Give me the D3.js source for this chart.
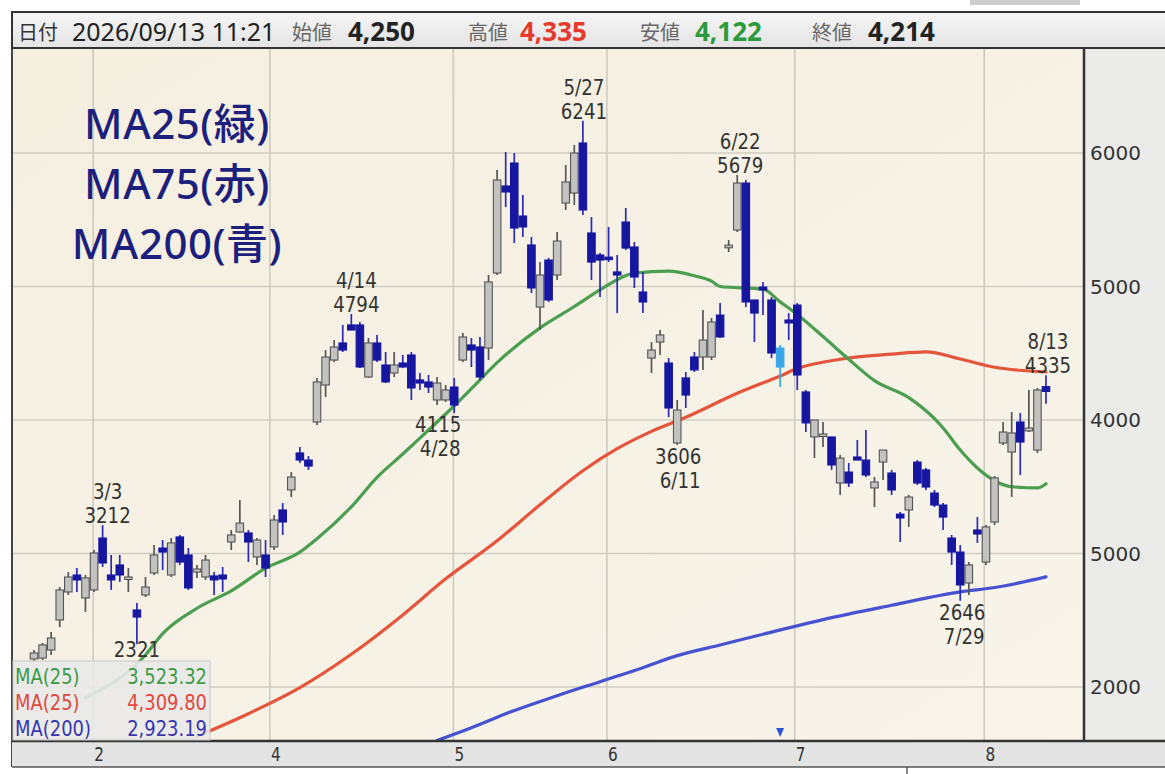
<!DOCTYPE html>
<html><head><meta charset="utf-8">
<script src="https://cdn.jsdelivr.net/npm/d3@7"></script>
<style>body{margin:0;background:#fff;overflow:hidden}</style>
</head><body><svg id="c" width="1165" height="774"></svg>
<script>
// ---------- DATA ----------
const open = [2210,2217,2277,2502,2712,2839,2667,2727,3116,2839,2914,2817,2577,2689,2854,3041,2839,3124,2989,2861,
  2824,2832,2839,3086,3161,3154,2974,2989,3049,3326,3476,3753,3700,3985,4262,4449,4577,4712,4712,4322,
  4577,4412,4352,4427,4487,4300,4285,4150,4150,4247,4449,4562,4547,4539,5101,5753,5925,5528,5311,4846,
  5198,5086,5625,5700,6075,5401,5236,5220,5109,5483,5296,4959,4464,4584,4427,3828,4315,4472,4472,4472,
  4786,5290,5423,5775,4899,4996,4899,4539,4749,4861,4210,3873,3880,3873,3528,3610,3723,3700,3491,3685,
  3603,3295,3326,3685,3626,3453,3363,3116,3011,2779,3176,2936,3236,3828,3760,3985,3918,3775,4250];
const high = [2277,2330,2412,2749,2861,2891,2839,3026,3212,2989,2989,2891,2629,2824,3064,3101,3116,3139,3041,2914,
  2989,2861,2899,3176,3401,3176,3116,3101,3288,3378,3610,3798,3730,4315,4524,4599,4712,4794,4734,4614,
  4637,4509,4509,4487,4509,4352,4337,4322,4262,4315,4652,4614,4622,5086,5873,6007,6000,5685,5371,5183,
  5213,5408,5910,6060,6241,5520,5251,5446,5236,5588,5333,5109,4584,4674,4464,4150,4360,4509,4824,4764,
  4876,5348,5835,5798,4899,5034,4921,4562,4801,4876,4225,4000,3985,3873,3738,3678,3850,3925,3573,3775,
  3626,3311,3438,3700,3640,3476,3378,3139,3064,2936,3273,3213,3581,3985,4060,4052,4225,4240,4335];
const low = [2187,2202,2240,2449,2689,2712,2562,2712,2899,2727,2787,2712,2321,2674,2839,2876,2824,2914,2727,2817,
  2802,2689,2712,3026,3154,2936,2914,2824,3026,3139,3423,3678,3626,3963,4172,4434,4509,4674,4389,4315,
  4434,4277,4322,4389,4150,4225,4202,4112,4135,4052,4434,4397,4300,4449,5086,5595,5326,5371,4951,4674,
  4884,5049,5573,5610,5535,5049,4921,5183,4801,5273,4989,4801,4352,4487,4022,3813,4090,4360,4375,4449,
  4614,5258,5408,4846,4584,4786,4464,4247,4599,4225,3910,3715,3798,3626,3438,3498,3700,3573,3348,3551,
  3438,3086,3199,3513,3476,3348,3176,2914,2646,2689,3079,2914,3213,3813,3423,3588,3910,3753,4122];
const close = [2255,2315,2367,2727,2824,2802,2817,3004,2929,2802,2839,2824,2524,2749,2989,3011,3079,2936,2742,2884,
  2951,2802,2809,3139,3228,3086,3101,2891,3251,3236,3573,3700,3655,4285,4472,4547,4524,4674,4397,4577,
  4449,4285,4412,4397,4240,4277,4247,4277,4225,4112,4622,4524,4322,5034,5798,5708,5438,5446,4989,5086,
  4899,5341,5783,6000,5573,5183,5198,5205,5086,5288,5071,4884,4524,4637,4090,4075,4187,4375,4599,4734,
  4622,5310,5775,4884,4801,4974,4502,4397,4727,4337,3978,4000,3895,3663,3715,3528,3700,3588,3536,3775,
  3476,3266,3423,3528,3498,3363,3273,3011,2764,2914,3146,3199,3566,3910,3903,3835,3940,4225,4214];
const highlightIndex = 87;   // light-blue candle
const markerIndex = 87;      // small blue marker near the axis

// moving averages: [candle index, value]
const ma25 = [[6,1920],[13,2240],[15,2400],[19,2590],[23,2720],[27,2890],[31,3010],[33,3110],[37,3350],[40,3570],
  [43,3745],[46,3925],[48,4045],[51,4235],[54,4430],[59,4690],[63,4850],[66,4975],[70,5100],[74,5115],[77,5080],
  [79,5040],[80,5000],[85,4980],[87,4885],[89,4790],[92,4625],[95,4455],[98,4295],[102,4168],[105,4010],[106,3940],
  [108,3775],[110,3640],[112,3545],[114,3500],[117,3491],[118,3523]];
const ma75 = [[19,1630],[25,1800],[31,1995],[37,2245],[43,2540],[48,2810],[54,3095],[59,3365],[64,3620],[68,3785],
  [72,3915],[76,4020],[82,4200],[87,4330],[89,4385],[94,4455],[100,4493],[104,4510],[108,4457],[112,4395],[118,4360]];
const ma200 = [[47,1600],[51,1695],[55,1800],[61,1935],[66,2040],[71,2145],[75,2235],[80,2315],[85,2395],[92,2505],
  [100,2612],[108,2712],[112,2745],[118,2825]];

const yTicks = [2000,3000,4000,5000,6000];
const yTickLabels = ["2000","5000","4000","5000","6000"];
const monthTicks = [6.9,27.5,48.9,66.8,88.7,110.8];
const monthLabels = ["2","4","5","6","7","8"];

const annotations = [
  {i:8,   side:"high", lines:["3/3","3212"]},
  {i:12,  side:"low",  lines:["2321"]},
  {i:37,  side:"high", lines:["4/14","4794"]},
  {i:49,  side:"low",  lines:["4115","4/28"]},
  {i:64,  side:"high", lines:["5/27","6241"]},
  {i:82,  side:"high", lines:["6/22","5679"]},
  {i:75,  side:"low",  lines:["3606","6/11"]},
  {i:108, side:"low",  lines:["2646","7/29"]},
  {i:118, side:"high", lines:["8/13","4335"]}
];
const annoDx = {8:5,12:0,37:5,49:-16,64:1,82:3,75:1,108:2,118:2};

const legendNames = ["MA(25)","MA(25)","MA(200)"];
const legendValues = ["3,523.32","4,309.80","2,923.19"];
const titleLines = ["MA25(緑)","MA75(赤)","MA200(青)"];
const headerDate = "2026/09/13 11:21";
const headerNames = ["始値","高値","安値","終値"];
const headerValues = ["4,250","4,335","4,122","4,214"];

// ---------- LAYOUT ----------
const svg = d3.select("#c");
const L = 12, R = 1084, T = 49, B = 741;
const x = d3.scaleLinear().domain([0, open.length - 1]).range([34, 1046]);
const y = d3.scaleLinear().domain([2000, 6000]).range([687, 153]);
const narrow = "'DejaVu Sans Condensed','DejaVu Sans',sans-serif";

// narrow text helper: condensed font squeezed horizontally
function ntext(parent, tx, ty, str, size, fill, anchor, sx) {
  const g = parent.append("g").attr("transform", `translate(${tx},${ty}) scale(${sx||0.82},1)`);
  return g.append("text").attr("x",0).attr("y",0).attr("font-family",narrow).attr("font-size",size)
    .attr("fill",fill).attr("text-anchor",anchor||"start").text(str);
}

const defs = svg.append("defs");
defs.append("clipPath").attr("id","plot").append("rect").attr("x",L).attr("y",T).attr("width",R-L).attr("height",B-T);
const bg = defs.append("linearGradient").attr("id","bg").attr("x1",0).attr("y1",0).attr("x2",1).attr("y2",1);
bg.append("stop").attr("offset","0%").attr("stop-color","#f5efe0");
bg.append("stop").attr("offset","100%").attr("stop-color","#f8f4ea");
const hg = defs.append("linearGradient").attr("id","hg").attr("x1",0).attr("y1",0).attr("x2",0).attr("y2",1);
hg.append("stop").attr("offset","0%").attr("stop-color","#f6f6f6");
hg.append("stop").attr("offset","100%").attr("stop-color","#e4e4e4");

svg.append("rect").attr("x",0).attr("y",0).attr("width",1165).attr("height",774).attr("fill","#fff");
svg.append("rect").attr("x",970).attr("y",0).attr("width",110).attr("height",5).attr("fill","#cdcdcd");
svg.append("rect").attr("x",L).attr("y",T).attr("width",R-L).attr("height",B-T).attr("fill","url(#bg)");
svg.append("rect").attr("x",R).attr("y",T).attr("width",1165-R).attr("height",B-T).attr("fill","#ebebea");

// gridlines
svg.append("g").selectAll("line").data(yTicks).join("line")
  .attr("x1",L).attr("x2",R).attr("y1",d=>y(d)).attr("y2",d=>y(d))
  .attr("stroke","#d2cdc2").attr("stroke-width",1.6);
svg.append("g").selectAll("line").data(monthTicks).join("line")
  .attr("x1",d=>x(d)).attr("x2",d=>x(d)).attr("y1",T).attr("y2",B)
  .attr("stroke","#cfcac0").attr("stroke-width",1.6);

// moving averages
const line = d3.line().x(d=>x(d[0])).y(d=>y(d[1])).curve(d3.curveMonotoneX);
const maG = svg.append("g").attr("clip-path","url(#plot)");
[[ma200,"#4652d2"],[ma75,"#e5553b"],[ma25,"#4b9e4f"]].forEach(([data,col])=>{
  maG.append("path").attr("d",line(data)).attr("fill","none").attr("stroke",col)
    .attr("stroke-width",3.2).attr("stroke-linecap","round").attr("stroke-linejoin","round");
});

// candles
const idx = d3.range(open.length);
const cg = svg.append("g").attr("clip-path","url(#plot)");
const bw = 7.5;
idx.forEach(i=>{
  const up = close[i] >= open[i];
  const fill = i === highlightIndex ? "#3aa6e8" : (up ? "#c2c2c0" : "#1616a0");
  const stroke = i === highlightIndex ? "#3aa6e8" : (up ? "#555" : "#1616a0");
  const wick = i === highlightIndex ? "#3aa6e8" : (up ? "#555" : "#2a2ab8");
  cg.append("line").attr("x1",x(i)).attr("x2",x(i)).attr("y1",y(high[i])).attr("y2",y(low[i]))
    .attr("stroke",wick).attr("stroke-width",1.7);
  const top = y(Math.max(open[i],close[i])), bot = y(Math.min(open[i],close[i]));
  cg.append("rect").attr("x",x(i)-bw/2).attr("y",top).attr("width",bw).attr("height",Math.max(bot-top,2.5))
    .attr("fill",fill).attr("stroke",stroke).attr("stroke-width",1.1);
});

// marker
svg.append("path").attr("d",`M${x(markerIndex)-4},${B-13} L${x(markerIndex)+4},${B-13} L${x(markerIndex)},${B-4} Z`)
  .attr("fill","#2d52d6");

// annotations
const ag = svg.append("g");
annotations.forEach(a=>{
  const cx = x(a.i) + (annoDx[a.i]||0);
  if (a.side === "high") {
    const base = y(high[a.i]) - 2;
    a.lines.forEach((t,k)=>{
      ntext(ag, cx, base - (a.lines.length-1-k)*24, t, 22, "#333", "middle", 0.92);
    });
  } else {
    const base = Math.min(y(low[a.i]) + 19, 657);
    a.lines.forEach((t,k)=>{
      ntext(ag, cx + k*2, base + k*24, t, 22, "#333", "middle", 0.92);
    });
  }
});

// borders & axes
svg.append("line").attr("x1",L).attr("x2",L).attr("y1",T-1).attr("y2",767).attr("stroke","#444").attr("stroke-width",2);
svg.append("line").attr("x1",R).attr("x2",R).attr("y1",T).attr("y2",B).attr("stroke","#333").attr("stroke-width",2.5);
svg.append("g").selectAll("text").data(yTicks).join("text")
  .attr("x",R+6).attr("y",d=>y(d)+7).attr("font-family","'DejaVu Sans',sans-serif").attr("font-size",20)
  .attr("fill","#333").text((d,k)=>yTickLabels[k]);

svg.append("rect").attr("x",L).attr("y",B).attr("width",1165-L).attr("height",26).attr("fill","#e4e4e4");
svg.append("line").attr("x1",L).attr("x2",1165).attr("y1",B).attr("y2",B).attr("stroke","#333").attr("stroke-width",2.5);
svg.append("line").attr("x1",L).attr("x2",1165).attr("y1",767).attr("y2",767).attr("stroke","#555").attr("stroke-width",1.6);
svg.append("line").attr("x1",907).attr("x2",907).attr("y1",767).attr("y2",774).attr("stroke","#555").attr("stroke-width",1.4);
const xg = svg.append("g");
monthTicks.forEach((d,k)=>ntext(xg, x(d)+6, 761, monthLabels[k], 20, "#333", "middle", 0.85));

// legend box
svg.append("rect").attr("x",L+1).attr("y",661).attr("width",197).attr("height",B-661-1)
  .attr("fill","#e9e9e9").attr("fill-opacity",0.9).attr("stroke","#c8c8c8").attr("stroke-width",1);
const legCols = ["#3b9a48","#e0483a","#3636b0"];
const lg = svg.append("g");
legendNames.forEach((n,k)=>{
  ntext(lg, 15, 684+k*26, n, 21, legCols[k], "start", 0.95);
  ntext(lg, 207, 684+k*26, legendValues[k], 21, legCols[k], "end", 0.95);
});

// header
svg.append("rect").attr("x",L).attr("y",12).attr("width",1165-L+5).attr("height",36)
  .attr("fill","url(#hg)").attr("stroke","#333").attr("stroke-width",2);
const hf = "'Noto Sans','Noto Sans CJK JP',sans-serif";
svg.append("text").attr("x",18).attr("y",40).attr("font-family","'Noto Sans CJK JP',sans-serif").attr("font-size",20)
  .attr("fill","#333").text("日付");
svg.append("text").attr("x",72).attr("y",41).attr("font-family",hf).attr("font-size",25).attr("fill","#222").text(headerDate);
const hx = [292,468,640,812], vx = [348,520,695,868];
const vCol = ["#222","#e5392c","#2c9a3c","#222"];
headerNames.forEach((n,k)=>{
  svg.append("text").attr("x",hx[k]).attr("y",40).attr("font-family","'Noto Sans CJK JP',sans-serif")
    .attr("font-size",20).attr("fill","#666").text(n);
  svg.append("text").attr("x",vx[k]).attr("y",41).attr("font-family",hf).attr("font-weight","bold")
    .attr("font-size",26).attr("fill",vCol[k]).text(headerValues[k]);
});

// title lines
titleLines.forEach((t,k)=>{
  svg.append("text").attr("x",177).attr("y",139+k*60).attr("text-anchor","middle")
    .attr("font-family","'Noto Sans','Noto Sans CJK JP',sans-serif").attr("font-size",42).attr("font-weight",500)
    .attr("letter-spacing",0.5).attr("fill","#1d1f7c").text(t);
});
</script></body></html>
